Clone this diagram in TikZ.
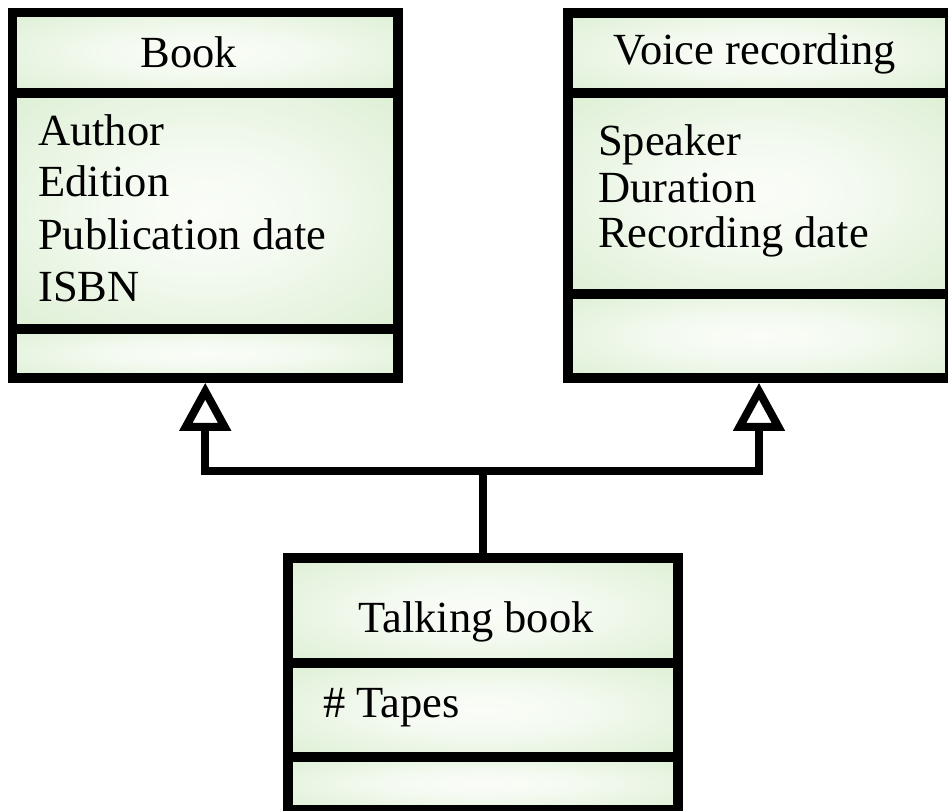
\documentclass[tikz,border=0pt]{standalone}
\usepackage{fontspec}
\setmainfont{Liberation Serif}
\usetikzlibrary{arrows.meta}
\definecolor{boxedge}{RGB}{212,235,201}
\definecolor{boxmid}{RGB}{250,253,248}
% soft glow: pale centre fading to light green at the edges
\pgfdeclareradialshading{softglow}{\pgfpoint{0bp}{0bp}}{%
  color(0bp)=(boxmid); color(12bp)=(boxmid!85!boxedge); color(45bp)=(boxedge); color(50bp)=(boxedge)}
\begin{document}
\begin{tikzpicture}[x=1pt,y=-1pt,
  compartment/.style={draw=black, line width=9.5pt, shading=softglow,
    inner sep=0pt, outer sep=4.75pt},
  classname/.style={font=\fontsize{44.5}{50}\selectfont, anchor=base, inner sep=0pt},
  attribute/.style={font=\fontsize{44.5}{50}\selectfont, anchor=base west, inner sep=0pt},
  generalization/.style={draw=black, line width=8pt,
    -{Triangle[open, length=48pt, width=50pt]}}
]
\useasboundingbox (0,0) rectangle (948,811);
\clip (0,0) rectangle (948,811);

% Book class
\node[compartment, minimum width=385.5pt, minimum height=80.5pt] (bookhead) at (205.25,52.75) {};
\node[compartment, minimum width=385.5pt, minimum height=236pt] (bookattr) at (205.25,211) {};
\node[compartment, minimum width=385.5pt, minimum height=49pt] (bookops) at (205.25,353.5) {};
\node[classname] (booktitle) at (189,67) {Book};
\node[attribute] (bookauthor) at (38,145) {Author};
\node[attribute] (bookedition) at (38,196) {Edition};
\node[attribute] (bookdate) at (38,249) {Publication date};
\node[attribute] (bookisbn) at (38,301) {ISBN};

% Voice recording class
\node[compartment, minimum width=382pt, minimum height=80pt] (voicehead) at (759,53) {};
\node[compartment, minimum width=382pt, minimum height=201pt] (voiceattr) at (759,193.5) {};
\node[compartment, minimum width=382pt, minimum height=84pt] (voiceops) at (759,336) {};
\node[classname] (voicetitle) at (755,64) {Voice recording};
\node[attribute] (voicespeaker) at (598,155) {Speaker};
\node[attribute] (voiceduration) at (598,202) {Duration};
\node[attribute] (voicedate) at (598,247) {Recording date};

% Talking book class
\node[compartment, minimum width=390pt, minimum height=105pt] (talkhead) at (483,610.5) {};
\node[compartment, minimum width=390pt, minimum height=94pt] (talkattr) at (483,710) {};
\node[compartment, minimum width=390pt, minimum height=53pt] (talkops) at (483,783.5) {};
\node[classname] (talktitle) at (476,632) {Talking book};
\node[attribute] (talktapes) at (323,717) {\# Tapes};

% Generalization connectors sharing one bus line
\coordinate (bus) at (481,471);
\draw[generalization] (talkhead.north) -- (talkhead.north |- bus) -| (bookops.south);
\draw[generalization] (talkhead.north) -- (talkhead.north |- bus) -| (voiceops.south);
\end{tikzpicture}
\end{document}
